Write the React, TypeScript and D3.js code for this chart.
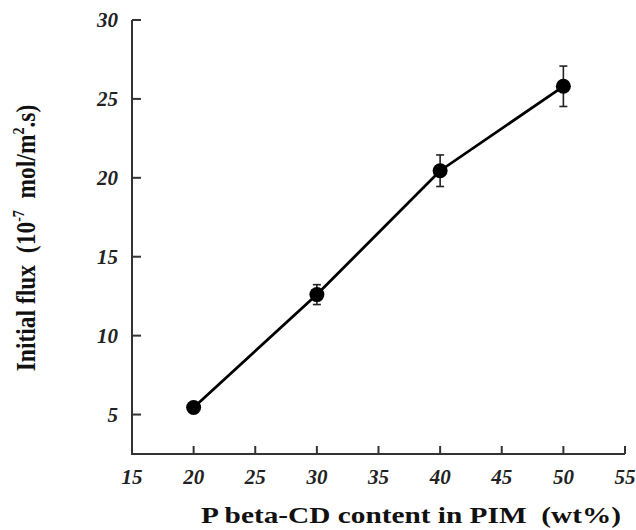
import React, { useEffect, useRef } from "react";
import * as d3 from "d3";

const xValues = [20, 30, 40, 50];
const yValues = [5.45, 12.6, 20.45, 25.8];
const yErrors = [0, 0.63, 1.0, 1.28];
const xTicks = [15, 20, 25, 30, 35, 40, 45, 50, 55];
const yTicks = [5, 10, 15, 20, 25, 30];

const W = 636;
const H = 530;
const left = 132;
const right = 625;
const top = 20;
const bottom = 454;

export default function App() {
  const ref = useRef<SVGSVGElement>(null);

  useEffect(() => {
    const svg = d3.select(ref.current);
    svg.selectAll("*").remove();

    const x = d3.scaleLinear().domain([15, 55]).range([left, right]);
    const y = d3.scaleLinear().domain([2.5, 30]).range([bottom, top]);

    const font = "'Liberation Serif', 'Times New Roman', serif";

    svg.append("path")
      .attr("d", `M${left},${top}V${bottom}H${right}`)
      .attr("fill", "none")
      .attr("stroke", "#333")
      .attr("stroke-width", 2);

    const yg = svg.append("g");
    yTicks.forEach((t) => {
      yg.append("line")
        .attr("x1", left).attr("x2", left + 9)
        .attr("y1", y(t)).attr("y2", y(t))
        .attr("stroke", "#333").attr("stroke-width", 2);
      yg.append("text")
        .attr("x", 118).attr("y", y(t))
        .attr("dy", "0.35em")
        .attr("text-anchor", "end")
        .attr("font-family", font)
        .attr("font-style", "italic")
        .attr("font-weight", "bold")
        .attr("font-size", 21)
        .attr("fill", "#222")
        .text(String(t));
    });

    const xg = svg.append("g");
    xTicks.forEach((t) => {
      xg.append("line")
        .attr("x1", x(t)).attr("x2", x(t))
        .attr("y1", bottom).attr("y2", bottom - 8)
        .attr("stroke", "#333").attr("stroke-width", 2);
      xg.append("text")
        .attr("x", x(t)).attr("y", 484)
        .attr("text-anchor", "middle")
        .attr("font-family", font)
        .attr("font-style", "italic")
        .attr("font-weight", "bold")
        .attr("font-size", 21)
        .attr("fill", "#222")
        .text(String(t));
    });

    const data = xValues.map((v, i) => ({ x: v, y: yValues[i], e: yErrors[i] }));

    const eg = svg.append("g").attr("stroke", "#222").attr("stroke-width", 1.6);
    data.filter((d) => d.e > 0).forEach((d) => {
      const cx = x(d.x);
      eg.append("line").attr("x1", cx).attr("x2", cx).attr("y1", y(d.y + d.e)).attr("y2", y(d.y - d.e));
      eg.append("line").attr("x1", cx - 4).attr("x2", cx + 4).attr("y1", y(d.y + d.e)).attr("y2", y(d.y + d.e));
      eg.append("line").attr("x1", cx - 4).attr("x2", cx + 4).attr("y1", y(d.y - d.e)).attr("y2", y(d.y - d.e));
    });

    const line = d3.line<{ x: number; y: number }>().x((d) => x(d.x)).y((d) => y(d.y));
    svg.append("path")
      .datum(data)
      .attr("d", line)
      .attr("fill", "none")
      .attr("stroke", "#000")
      .attr("stroke-width", 2.8);

    svg.append("g").selectAll("circle").data(data).join("circle")
      .attr("cx", (d) => x(d.x))
      .attr("cy", (d) => y(d.y))
      .attr("r", 7.5)
      .attr("fill", "#000");

    svg.append("text")
      .attr("x", 411).attr("y", 523)
      .attr("text-anchor", "middle")
      .attr("font-family", font)
      .attr("font-weight", "bold")
      .attr("font-size", 23)
      .attr("fill", "#111")
      .attr("textLength", 420)
      .attr("lengthAdjust", "spacingAndGlyphs")
      .style("white-space", "pre")
      .text("P beta-CD content in PIM  (wt%)");

    const yt = svg.append("text")
      .attr("transform", `translate(35,238) rotate(-90) scale(1,1.2)`)
      .attr("text-anchor", "middle")
      .attr("font-family", font)
      .attr("font-weight", "bold")
      .attr("font-size", 23.5)
      .attr("fill", "#111")
      .style("white-space", "pre");
    yt.append("tspan").text("Initial flux  (10");
    yt.append("tspan").attr("dy", -9).attr("font-size", 14).text("-7");
    yt.append("tspan").attr("dy", 9).text("  mol/m");
    yt.append("tspan").attr("dy", -9).attr("font-size", 14).text("2");
    yt.append("tspan").attr("dy", 9).text(".s)");
  }, []);

  return (
    <svg
      ref={ref}
      width={W}
      height={H}
      style={{ position: "absolute", left: 0, top: 0, background: "#fff" }}
    />
  );
}
